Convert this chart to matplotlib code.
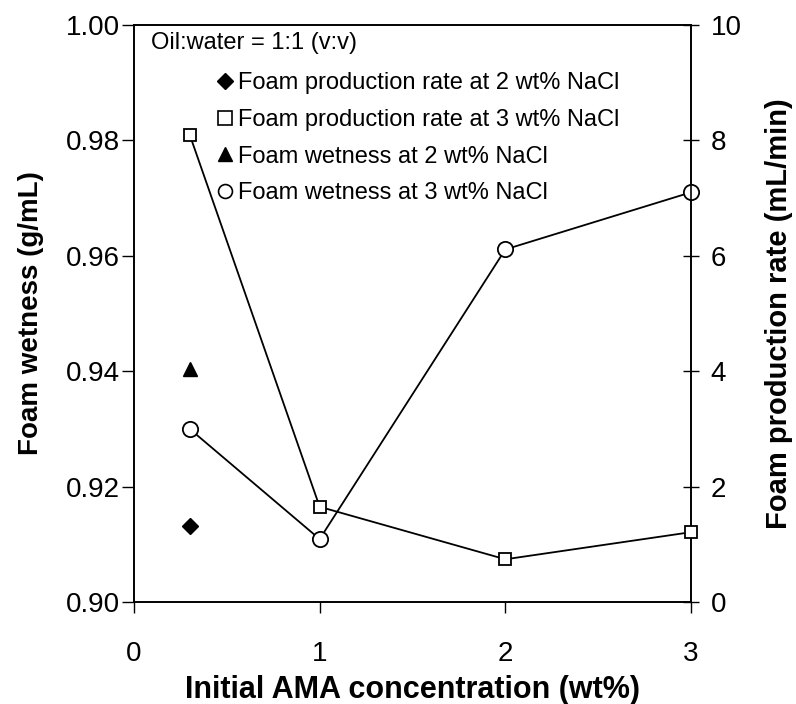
import matplotlib
matplotlib.use("Agg")
import matplotlib.pyplot as plt
from matplotlib.lines import Line2D

plt.rcParams["font.family"] = ["Liberation Sans", "DejaVu Sans"]

# initial AMA concentration (wt%)
conc_2nacl = [0.3]
conc_3nacl = [0.3, 1, 2, 3]

# foam production rate (mL/min), right axis
rate_2nacl = [1.32]
rate_3nacl = [8.1, 1.65, 0.74, 1.21]

# foam wetness (g/mL), left axis
wet_2nacl = [0.9404]
wet_3nacl = [0.930, 0.9109, 0.9611, 0.9710]

legend_labels = [
    "Foam production rate at 2 wt% NaCl",
    "Foam production rate at 3 wt% NaCl",
    "Foam wetness at 2 wt% NaCl",
    "Foam wetness at 3 wt% NaCl",
]

fig = plt.figure(figsize=(7.96, 7.04), dpi=100)
ax = fig.add_axes([0.1683, 0.1449, 0.6998, 0.8196])
ax2 = ax.twinx()

# wetness series on the left axis
ax.plot(conc_2nacl, wet_2nacl, linestyle="none", marker="^", ms=10,
        color="black", zorder=3, clip_on=False)
ax.plot(conc_3nacl, wet_3nacl, color="black", lw=1.3, marker="o", ms=11,
        mfc="white", mec="black", mew=1.3, zorder=3, clip_on=False)

# production rate series on the right axis
ax2.plot(conc_2nacl, rate_2nacl, linestyle="none", marker="D", ms=8,
         color="black", zorder=3, clip_on=False)
ax2.plot(conc_3nacl, rate_3nacl, color="black", lw=1.3, marker="s", ms=8,
         mfc="white", mec="black", mew=1.3, zorder=3, clip_on=False)

ax.set_xlim(0, 3)
ax.set_ylim(0.90, 1.00)
ax2.set_ylim(0, 10)
ax.set_xticks([0, 1, 2, 3])
ax.set_yticks([0.90, 0.92, 0.94, 0.96, 0.98, 1.00])
ax.set_yticklabels([f"{v:.2f}" for v in ax.get_yticks()])
ax2.set_yticks([0, 2, 4, 6, 8, 10])

ax.tick_params(axis="y", direction="out", length=9, width=1, labelsize=20, pad=1)
ax.tick_params(axis="x", direction="out", length=8, width=1, labelsize=20, pad=20)
ax2.tick_params(axis="y", direction="inout", length=12, width=1, labelsize=20, pad=8)

for a in (ax, ax2):
    for sp in a.spines.values():
        sp.set_linewidth(1.2)

ax.set_xlabel("Initial AMA concentration (wt%)", fontsize=22, fontweight="bold",
              labelpad=6)
ax.set_ylabel("Foam wetness (g/mL)", fontsize=20, fontweight="bold", labelpad=16)
ax2.set_ylabel("Foam production rate (mL/min)", fontsize=21, fontweight="bold",
               labelpad=17)

ax.text(0.03, 0.988, "Oil:water = 1:1 (v:v)", transform=ax.transAxes,
        fontsize=17, ha="left", va="top")

handles = [
    Line2D([], [], linestyle="none", marker="D", ms=8, color="black"),
    Line2D([], [], linestyle="none", marker="s", ms=10, mfc="white",
           mec="black", mew=1.2),
    Line2D([], [], linestyle="none", marker="^", ms=10, color="black"),
    Line2D([], [], linestyle="none", marker="o", ms=10, mfc="white",
           mec="black", mew=1.2),
]
ax.legend(handles, legend_labels, loc="upper left", bbox_to_anchor=(0.15, 0.918),
          frameon=False, fontsize=17, handlelength=0.6, handletextpad=0.25,
          labelspacing=0.62, borderaxespad=0, borderpad=0)

fig.savefig("out.png", dpi=100)
